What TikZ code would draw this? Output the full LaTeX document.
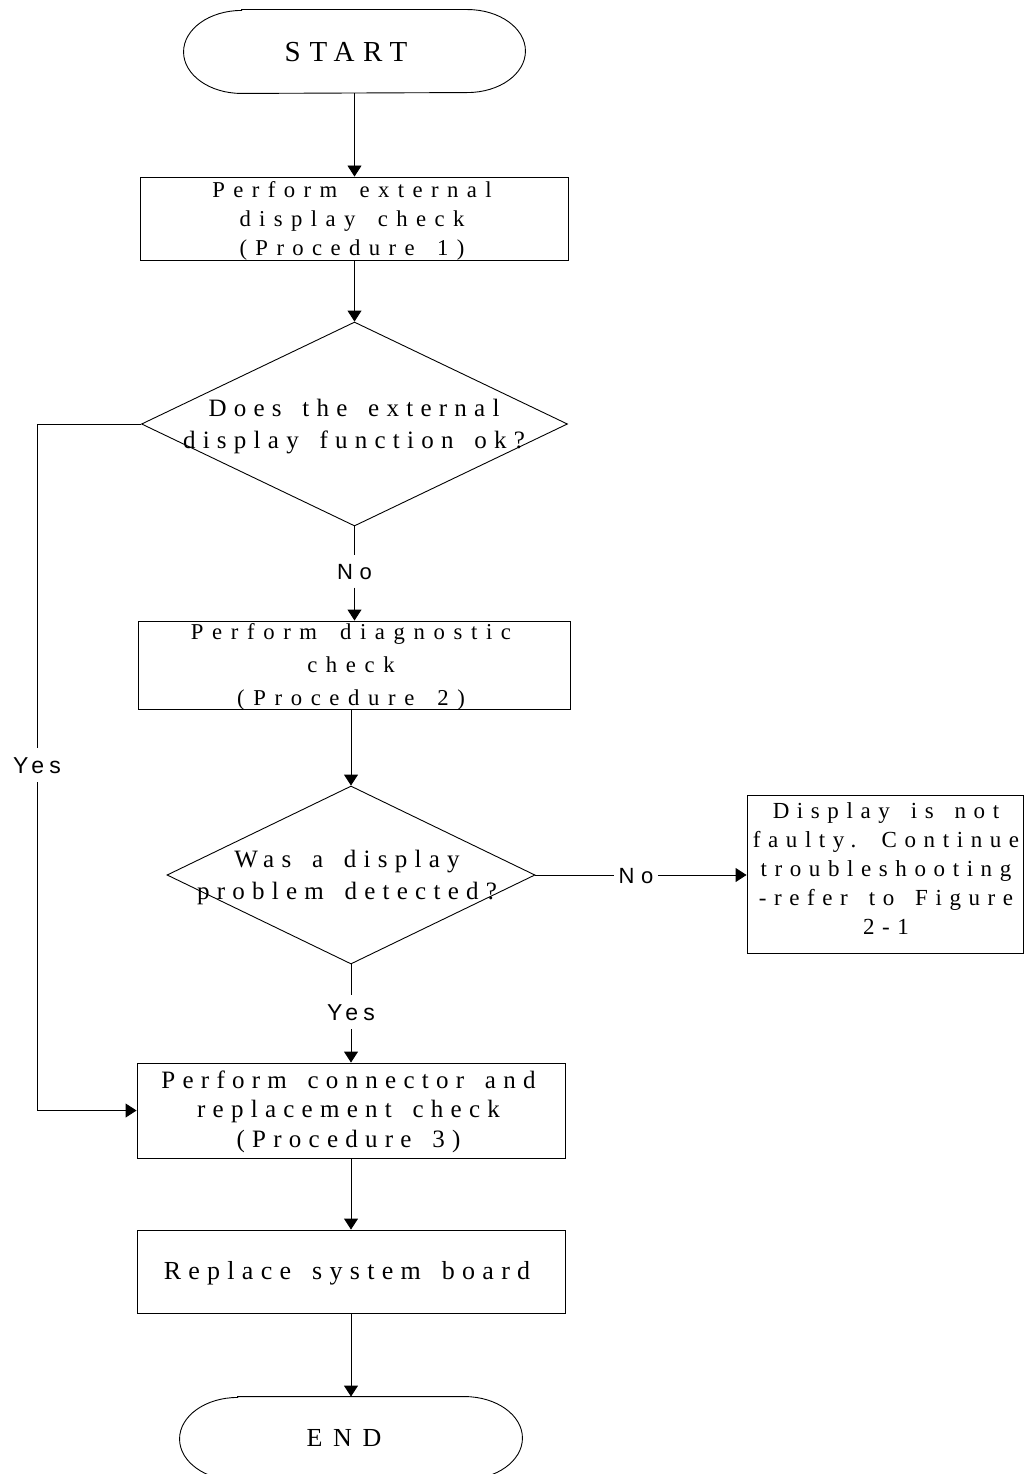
\documentclass[tikz,border=0pt]{standalone}
\usepackage{fontspec}
\setmainfont{Liberation Serif}
\setsansfont{Liberation Sans}
\usetikzlibrary{shapes.geometric,arrows.meta}
% size, baselineskip, letter spacing (percent of size, integer)
\newcommand\ftr[3]{\fontsize{#1pt}{#2pt}\selectfont\addfontfeature{LetterSpace=#3}%
  \spaceskip=\dimexpr\fontdimen2\font+#1pt*#3/100\relax}
\newcommand\lns[1]{\begin{tabular}[t]{@{}c@{}}#1\end{tabular}}
\begin{document}
\begin{tikzpicture}[x=1pt,y=1pt,line width=0.9pt,
  arr/.style={-{Triangle[length=11pt,width=14pt]}},
  boxshape/.style={draw,rectangle,inner sep=0pt},
  termshape/.style={rectangle,inner sep=0pt},
  dia/.style={draw,diamond,inner sep=0pt},
  txt/.style={inner sep=0pt,anchor=base},
  lbl/.style={inner xsep=3pt,inner ysep=8.5pt,anchor=base,fill=white}]
\useasboundingbox (0,0) rectangle (1025,-1474);

% START terminal
\node[termshape,minimum width=341pt,minimum height=83pt] (start) at (354.5,-51.5) {};
\draw ([xshift=58pt]start.north west) -- ([xshift=-58pt]start.north east)
  arc[start angle=90,end angle=-90,x radius=58,y radius=41.5]
  -- ([xshift=58pt]start.south west)
  arc[start angle=270,end angle=90,x radius=58,y radius=41.5] -- cycle;
\node[txt,font=\ftr{29}{35}{30}] (startt) at (346,-62) {START};

% Box 1
\node[boxshape,minimum width=428pt,minimum height=83pt] (b1) at (354.5,-218.5) {};
\node[txt,font=\ftr{22.7}{29}{37}] (b1t) at (352,-197) {\lns{Perform external\\display check\\(Procedure 1)}};

% Decision 1
\node[dia,minimum width=426pt,minimum height=204pt] (d1) at (354.5,-424) {};
\node[txt,font=\ftr{25}{32}{29}] (d1t) at (354,-416) {\lns{Does the external\\display function ok?}};

% No label 1
\node[lbl,font={\sffamily\ftr{22}{26}{30}},inner ysep=8pt] (no1) at (354.5,-579) {No};

% Box 2
\node[boxshape,minimum width=432pt,minimum height=88pt] (b2) at (354.5,-665) {};
\node[txt,font=\ftr{22.7}{33}{38}] (b2t) at (351,-639) {\lns{Perform diagnostic\\check\\(Procedure 2)}};

% Decision 2
\node[dia,minimum width=368pt,minimum height=178pt] (d2) at (351,-875) {};
\node[txt,font=\ftr{25}{32}{29}] (d2t) at (347,-867) {\lns{Was a display\\problem detected?}};

% No label 2
\node[lbl,font={\sffamily\ftr{22}{26}{30}},inner xsep=4pt] (no2) at (636,-883) {No};

% Box 3
\node[boxshape,minimum width=276pt,minimum height=158pt] (b3) at (885,-874) {};
\node[txt,font=\ftr{23}{29}{33}] (b3t) at (886,-818) {\lns{Display is not\\faulty. Continue\\troubleshooting\\-refer to Figure\\2-1}};

% Yes label 2
\node[lbl,font={\sffamily\ftr{23}{26}{22}}] (yes2) at (351,-1020) {Yes};

% Box 4
\node[boxshape,minimum width=428pt,minimum height=95pt] (b4) at (351,-1110.5) {};
\node[txt,font=\ftr{25}{29.5}{29}] (b4t) at (348.5,-1088) {\lns{Perform connector and\\replacement check\\(Procedure 3)}};

% Yes label 1 (left loop)
\node[lbl,font={\sffamily\ftr{23}{26}{22}}] (yes1) at (37,-773) {Yes};
\coordinate (cl1) at (37,-424);
\coordinate (cl2) at (37,-1110.5);

% Box 5
\node[boxshape,minimum width=428pt,minimum height=83pt] (b5) at (351,-1271.5) {};
\node[txt,font=\ftr{26}{30}{28}] (b5t) at (347,-1279) {Replace system board};

% END terminal
\node[termshape,minimum width=342pt,minimum height=83pt] (end) at (351,-1438.5) {};
\draw ([xshift=58pt]end.north west) -- ([xshift=-58pt]end.north east)
  arc[start angle=90,end angle=-90,x radius=58,y radius=41.5]
  -- ([xshift=58pt]end.south west)
  arc[start angle=270,end angle=90,x radius=58,y radius=41.5] -- cycle;
\node[txt,font=\ftr{26}{30}{41}] (endt) at (344,-1446) {END};

% Connectors
\draw[arr] (start.south) -- (b1.north);
\draw[arr] (b1.south) -- (d1.north);
\draw (d1.south) -- (no1.north);
\draw[arr] (no1.south) -- (b2.north);
\draw[arr] (b2.south -| d2.north) -- (d2.north);
\draw (d2.east) -- (d2.east -| no2.west);
\draw[arr] (no2.east |- d2.east) -- (d2.east -| b3.west);
\draw (d2.south) -- (yes2.north);
\draw[arr] (yes2.south) -- (b4.north);
\draw[arr] (b4.south) -- (b5.north);
\draw[arr] (b5.south) -- (end.north);
\draw (d1.west) -- (cl1) -- (yes1.north);
\draw[arr] (yes1.south) -- (cl2) -- (b4.west);
\end{tikzpicture}
\end{document}
